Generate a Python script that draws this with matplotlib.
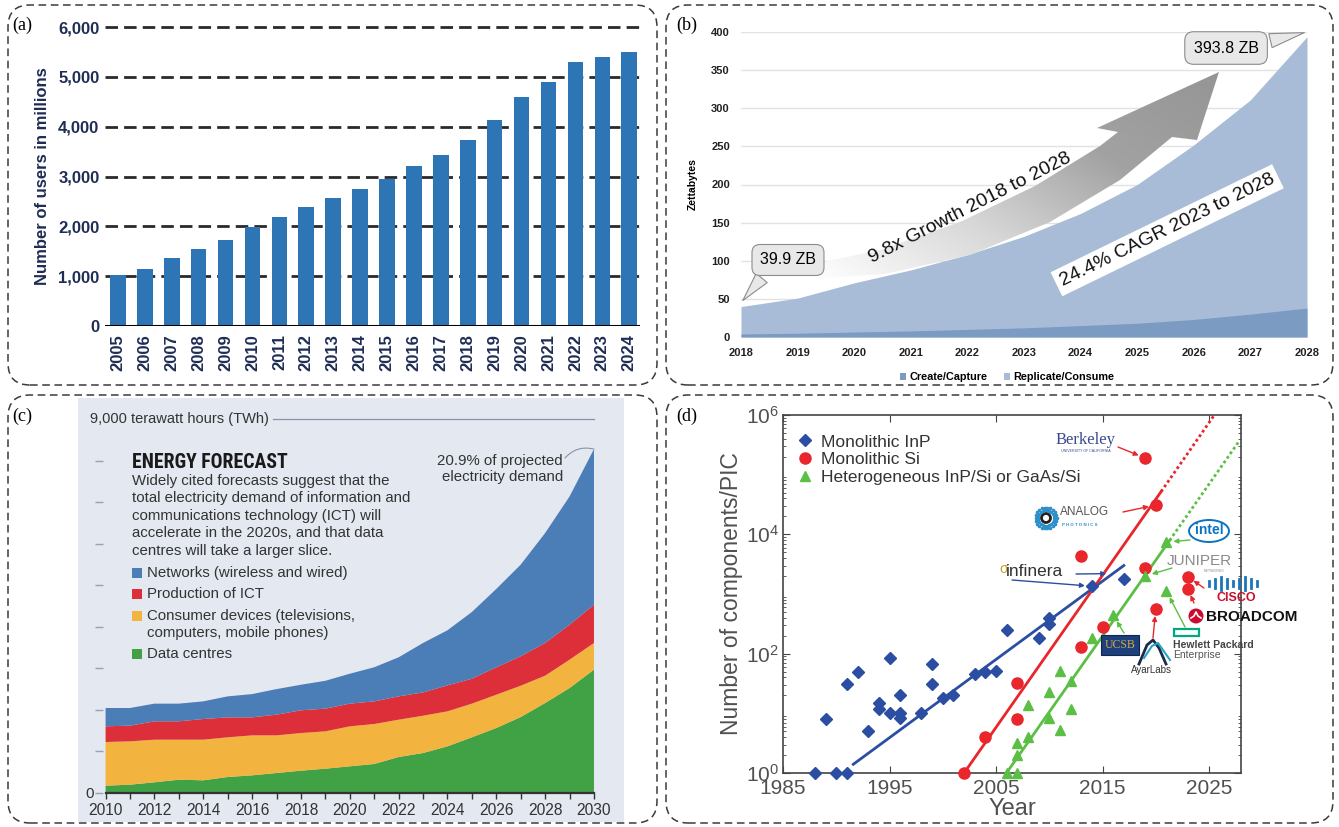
import numpy as np
import matplotlib
matplotlib.use("Agg")
import matplotlib.pyplot as plt
from matplotlib import font_manager
from matplotlib.colors import LinearSegmentedColormap
from matplotlib.patches import FancyBboxPatch, Polygon, Rectangle, Ellipse, Circle
from matplotlib.lines import Line2D

W, H = 1339, 827

# (a) internet users, millions
user_years = list(range(2005, 2025))
users = [1020, 1150, 1370, 1550, 1730, 1990, 2180, 2390, 2560, 2750,
         2950, 3220, 3440, 3730, 4130, 4590, 4900, 5300, 5400, 5500]
user_ticks = [0, 1000, 2000, 3000, 4000, 5000, 6000]

# (b) global datasphere, zettabytes
zb_years = list(range(2018, 2029))
zb_total = [39.9, 51, 71, 88, 108, 132, 162, 200, 252, 311, 393.8]
zb_create = [4, 5, 6.5, 8, 10, 12, 15, 18, 23, 30, 38]

# (c) ICT electricity demand by sector, TWh
ict_years = list(range(2010, 2031))
data_centres = [176, 200, 257, 320, 305, 385, 425, 481, 537, 585, 642,
                698, 866, 962, 1123, 1340, 1564, 1828, 2165, 2526, 2967]
consumer_devices = [1051, 1043, 1026, 963, 978, 955, 962, 906, 906, 899, 962,
                    962, 898, 898, 842, 810, 801, 754, 658, 682, 643]
production_ict = [378, 377, 442, 442, 497, 480, 433, 498, 547, 546, 546,
                  545, 561, 560, 625, 600, 660, 708, 787, 842, 920]
networks = [440, 425, 425, 425, 425, 505, 560, 615, 615, 670, 720,
            820, 940, 1190, 1325, 1605, 1885, 2205, 2645, 3085, 3745]

# (d) components per photonic integrated circuit
inp_years = [1988, 1989, 1990, 1991, 1991, 1992, 1993, 1994, 1994, 1995, 1995,
             1996, 1996, 1996, 1998, 1999, 1999, 2000, 2001, 2003, 2004, 2005,
             2006, 2009, 2010, 2010, 2014, 2017]
inp_counts = [1, 8, 1, 1, 31, 49, 5, 15, 12, 83, 10, 20, 10, 8.5, 10, 66, 31,
              18, 20, 45, 49, 51, 250, 180, 400, 310, 1350, 1750]
si_years = [2002, 2004, 2007, 2007, 2013, 2013, 2015, 2019, 2019, 2020, 2020, 2023, 2023]
si_counts = [1, 4, 32, 8, 130, 4300, 280, 2700, 190000, 31000, 560, 1950, 1230]
het_years = [2006, 2007, 2007, 2007, 2008, 2008, 2010, 2010, 2011, 2011, 2012,
             2012, 2014, 2016, 2019, 2021, 2021]
het_counts = [1, 1, 2, 3.2, 14, 4, 8.5, 23, 51, 5.3, 35, 12, 180, 440, 2000, 1120, 7400]

inp_trend = ([1991.6, 2017.0], [1.4, 3000])
si_trend = ([2002.0, 2020.5], [1, 52000])
si_proj = ([2020.5, 2025.5], [52000, 1e6])
het_trend = ([2005.8, 2021.3], [0.9, 7900])
het_proj = ([2021.3, 2027.8], [7900, 3.6e5])

# pick a condensed face for the headline if one is installed
names = {f.name for f in font_manager.fontManager.ttflist}
COND, CK = 'Liberation Sans', 0.78
for fam, k in [('Liberation Sans Narrow', 1.0), ('Roboto Condensed', 0.95),
               ('Open Sans Condensed', 0.95), ('DejaVu Sans Condensed', 0.85)]:
    if fam in names:
        COND, CK = fam, k
        break

plt.rcParams['font.family'] = ['Liberation Sans', 'DejaVu Sans']
plt.rcParams['mathtext.default'] = 'regular'

fig = plt.figure(figsize=(W / 100, H / 100), dpi=100)


def fbox(x0, y0, x1, y1):
    return [x0 / W, 1 - y1 / H, (x1 - x0) / W, (y1 - y0) / H]


def fx(px):
    return px / W


def fy(py):
    return 1 - py / H


def ftext(px, py, s, **kw):
    return fig.text(fx(px), fy(py), s, **kw)


# dashed rounded frames around the four panels
for x0, y0, x1, y1 in [(8, 5, 657, 385), (666, 5, 1333, 385),
                       (8, 395, 657, 823), (666, 395, 1333, 823)]:
    fig.add_artist(FancyBboxPatch((x0 / 100, (H - y1) / 100), (x1 - x0) / 100, (y1 - y0) / 100,
                                  boxstyle='round,pad=0,rounding_size=0.22',
                                  transform=fig.dpi_scale_trans, fill=False,
                                  ec='#3a3a3a', lw=1.1, ls=(0, (5, 3))))

for lbl, px, py in [('(a)', 12, 25), ('(b)', 676, 25), ('(c)', 12, 416), ('(d)', 676, 416)]:
    ftext(px, py, lbl, family=['Liberation Serif', 'DejaVu Serif'], fontsize=13,
          va='center', ha='left')

# ---------------- (a) ----------------
navy = '#1f2d55'
axa = fig.add_axes(fbox(105, 27, 640, 326))
axa.bar(range(len(users)), users, width=0.58, color='#2e75b6', zorder=3)
axa.set_xlim(-0.48, 19.4)
axa.set_ylim(0, 6000)
for v in user_ticks[1:]:
    axa.axhline(v, color='#2a2a2a', lw=2, ls=(0, (4.5, 2.2)), zorder=1, clip_on=False)
axa.axhline(0, color='black', lw=2.2, zorder=4)
for s in axa.spines.values():
    s.set_visible(False)
axa.set_yticks(user_ticks)
axa.set_yticklabels([f'{v:,}' for v in user_ticks], fontsize=12, fontweight='bold', color=navy)
axa.set_xticks(range(len(user_years)))
axa.set_xticklabels([str(y) for y in user_years], rotation=90, fontsize=12,
                    fontweight='bold', color=navy)
axa.tick_params(length=0, pad=4)
axa.tick_params(axis='x', pad=6)
axa.set_ylabel('Number of users in millions', fontsize=12, fontweight='bold',
               color=navy, labelpad=6)

# ---------------- (b) ----------------
axb = fig.add_axes(fbox(741, 32, 1307, 337))
axb.fill_between(zb_years, 0, zb_total, color='#a8bcd7', lw=0, zorder=2)
axb.fill_between(zb_years, 0, zb_create, color='#7b9bc3', lw=0, zorder=2)
axb.set_yticks(range(0, 401, 50))
axb.set_xticks(zb_years)
axb.yaxis.grid(True, color='#e2e2e2', lw=1)
axb.set_axisbelow(True)
for s in axb.spines.values():
    s.set_visible(False)
axb.tick_params(length=0, labelsize=8, pad=8)
for t in axb.get_xticklabels() + axb.get_yticklabels():
    t.set_fontweight('bold')
    t.set_color('#222')
axb.set_ylabel('Zettabytes', fontsize=7.5, fontweight='bold', labelpad=10)

# curved growth arrow with a grey gradient
arrow_px = [(795, 268), (880, 250), (960, 222), (1035, 186), (1100, 146), (1118, 132),
            (1097, 128), (1219, 72), (1197, 140), (1172, 137), (1120, 180),
            (1050, 222), (970, 255), (885, 274), (795, 280)]
arrow_verts = [((px - 741) / 566, (337 - py) / 305) for px, py in arrow_px]
arrow_poly = Polygon(arrow_verts, closed=True, transform=axb.transAxes, fc='none', ec='none')
axb.add_patch(arrow_poly)
gx, gy = np.meshgrid(np.linspace(0, 1, 300), np.linspace(0, 1, 300))
t0 = np.array(arrow_verts[0])
t1 = np.array(arrow_verts[7])
d = t1 - t0
proj = ((gx - t0[0]) * d[0] + (gy - t0[1]) * d[1]) / (d @ d)
grey_cmap = LinearSegmentedColormap.from_list('gr', ['#ffffff', '#d8d8d8', '#a2a2a2', '#959595'])
img = axb.imshow(np.clip(proj, 0, 1), cmap=grey_cmap, extent=[0, 1, 0, 1], origin='lower',
                 transform=axb.transAxes, aspect='auto', zorder=3, interpolation='bilinear')
img.set_clip_path(arrow_poly)
axb.set_xlim(2018, 2028)
axb.set_ylim(0, 400)

axb.text(2022.05, 169, '9.8x Growth 2018 to 2028', rotation=27, fontsize=14,
         ha='center', va='center', zorder=5, color='#111')
axb.text(2025.53, 140, '24.4% CAGR 2023 to 2028', rotation=26, fontsize=14,
         ha='center', va='center', zorder=5, color='#111',
         bbox=dict(boxstyle='square,pad=0.25', fc='white', ec='none'))
axb.annotate('39.9 ZB', xy=(2018, 45), xytext=(2018.83, 101), fontsize=11.5,
             ha='center', va='center', zorder=6, annotation_clip=False,
             bbox=dict(boxstyle='round,pad=0.5', fc='#e8e8e8', ec='#8c8c8c', lw=0.8),
             arrowprops=dict(arrowstyle='wedge,tail_width=0.9', fc='#e8e8e8', ec='#8c8c8c',
                             lw=0.8, relpos=(0.2, 0.05)))
axb.annotate('393.8 ZB', xy=(2028, 400), xytext=(2026.57, 379), fontsize=11.5,
             ha='center', va='center', zorder=6, annotation_clip=False,
             bbox=dict(boxstyle='round,pad=0.55', fc='#e8e8e8', ec='#8c8c8c', lw=0.8),
             arrowprops=dict(arrowstyle='wedge,tail_width=0.9', fc='#e8e8e8', ec='#8c8c8c',
                             lw=0.8, relpos=(0.95, 0.75)))
axb.legend([Rectangle((0, 0), 1, 1, fc='#7b9bc3'), Rectangle((0, 0), 1, 1, fc='#a8bcd7')],
           ['Create/Capture', 'Replicate/Consume'], loc='center',
           bbox_to_anchor=(0.47, -0.132), ncol=2, frameon=False,
           handlelength=0.6, handleheight=0.6, handletextpad=0.3, columnspacing=1.5,
           prop=dict(weight='bold', size=7.8))

# ---------------- (c) ----------------
axc = fig.add_axes(fbox(78, 398, 624, 822))
axc.set_facecolor('#e3e8f1')
axc.stackplot(ict_years, data_centres, consumer_devices, production_ict, networks,
              colors=['#41a145', '#f2b33f', '#dc2f39', '#4b7db7'], lw=0, zorder=2)
axc.set_xlim(2008.87, 2031.23)
axc.set_ylim(-698, 9505)
for s in ['top', 'right']:
    axc.spines[s].set_visible(False)
axc.spines['left'].set_position(('data', 2009.9))
axc.spines['left'].set_visible(False)
axc.spines['bottom'].set_position(('data', 0))
axc.spines['bottom'].set_bounds(2010, 2030)
axc.spines['bottom'].set_color('#333')
axc.spines['bottom'].set_linewidth(1.6)
axc.spines['bottom'].set_zorder(3)
axc.set_yticks(range(0, 9000, 1000))
axc.set_yticklabels(['0'] + [''] * 8)
axc.tick_params(axis='y', length=6, color='#9aa3b5', width=1, pad=1,
                labelsize=11, labelcolor='#333')
axc.set_xticks(range(2010, 2031, 2))
axc.set_xticks(range(2011, 2030, 2), minor=True)
axc.tick_params(axis='x', which='both', length=4, color='#333', width=1, pad=3,
                labelsize=11.2, labelcolor='#333')

axc.text(2009.36, 9000, '9,000 terawatt hours (TWh)', fontsize=10.5,
         va='center', ha='left', color='#333')
axc.plot([2016.85, 2030], [9000, 9000], color='#8a93a6', lw=0.9)

cpx = lambda px: 2008.87 + (px - 78) / 24.42
cpy = lambda py: (793 - py) / 41.56 * 1000
axc.text(cpx(132), cpy(462), 'ENERGY FORECAST', fontsize=15 * CK, family=[COND, 'DejaVu Sans'],
         fontweight='bold', va='center', ha='left', color='#1a1a1a')
desc = ['Widely cited forecasts suggest that the',
        'total electricity demand of information and',
        'communications technology (ICT) will',
        'accelerate in the 2020s, and that data',
        'centres will take a larger slice.']
for i, line in enumerate(desc):
    axc.text(cpx(132), cpy(481 + 17.4 * i), line, fontsize=10.8,
             va='center', ha='left', color='#333')
legend_rows = [('Networks (wireless and wired)', '#4b7db7', 573, 573),
               ('Production of ICT', '#dc2f39', 594, 594),
               ('Consumer devices (televisions,\ncomputers, mobile phones)', '#f2b33f', 616, 624.5),
               ('Data centres', '#41a145', 654, 654)]
for txt, col, py, ty in legend_rows:
    axc.add_patch(Rectangle((cpx(132), cpy(py + 5)), 10 / 24.42, 10 / 41.56 * 1000,
                            fc=col, ec='none', zorder=3))
    axc.text(cpx(147), cpy(ty), txt, fontsize=10.8, va='center',
             ha='left', color='#333', linespacing=1.3)
axc.text(cpx(563), cpy(469), '20.9% of projected\nelectricity demand', fontsize=10.8,
         va='center', ha='right', color='#333', linespacing=1.15)
axc.annotate('', xy=(2030, 8275), xytext=(cpx(565), cpy(458)),
             arrowprops=dict(arrowstyle='-', color='#8a93a6', lw=0.8,
                             connectionstyle='arc3,rad=-0.3', shrinkA=0, shrinkB=0))

# ---------------- (d) ----------------
blue, red, green = '#2b4ea2', '#e8262c', '#5cbf45'
axd = fig.add_axes(fbox(783, 415, 1241, 773))
axd.set_yscale('log')
axd.plot(inp_trend[0], inp_trend[1], color=blue, lw=2, zorder=2)
axd.plot(si_trend[0], si_trend[1], color=red, lw=2, zorder=2)
axd.plot(si_proj[0], si_proj[1], color=red, lw=2, ls=(0, (1, 1)), zorder=2)
axd.plot(het_trend[0], het_trend[1], color=green, lw=2, zorder=2)
axd.plot(het_proj[0], het_proj[1], color=green, lw=2, ls=(0, (1, 1)), zorder=2)
axd.plot(inp_years, inp_counts, 'D', color=blue, ms=6.5, ls='none', clip_on=False, zorder=4,
         label='Monolithic InP')
axd.plot(si_years, si_counts, 'o', color=red, ms=8, ls='none', clip_on=False, zorder=4,
         label='Monolithic Si')
axd.plot(het_years, het_counts, '^', color=green, ms=7.5, ls='none', clip_on=False, zorder=4,
         label='Heterogeneous InP/Si or GaAs/Si')
axd.set_xlim(1985, 2028)
axd.set_ylim(1, 1e6)
axd.set_xticks([1985, 1995, 2005, 2015, 2025])
axd.set_yticks([1, 1e2, 1e4, 1e6])
axd.set_yticklabels([r'$10^0$', r'$10^2$', r'$10^4$', r'$10^6$'])
axd.yaxis.set_minor_locator(matplotlib.ticker.LogLocator(base=10, subs=np.arange(2, 10), numticks=20))
axd.yaxis.set_minor_formatter(matplotlib.ticker.NullFormatter())
axd.tick_params(which='both', direction='in', top=True, right=True, color='#444',
                labelsize=15, labelcolor='#505050')
axd.tick_params(which='major', length=5, pad=4)
axd.tick_params(which='minor', length=2.5)
axd.tick_params(axis='y', which='major', pad=3)
for s in axd.spines.values():
    s.set_color('#444')
    s.set_linewidth(1.2)
axd.set_xlabel('Year', fontsize=17, color='#505050', labelpad=0)
axd.set_ylabel('Number of components/PIC', fontsize=16.5, color='#505050', labelpad=2)
axd.legend(loc='upper left', bbox_to_anchor=(0.01, 0.97), frameon=False, fontsize=12.5,
           handlelength=1.0, handletextpad=0.4, labelspacing=0.15, borderpad=0,
           labelcolor='#333')


def callout(px, py, xy, col):
    axd.annotate('', xy=xy, xytext=(px, H - py), textcoords='figure pixels',
                 annotation_clip=False,
                 arrowprops=dict(arrowstyle='-|>', color=col, lw=1, shrinkA=0, shrinkB=5,
                                 mutation_scale=7))


# Berkeley
ftext(1086, 440, 'Berkeley', family=['Liberation Serif', 'DejaVu Serif'], fontsize=12,
      color='#3a4a8e', ha='center', va='center')
ftext(1086, 451, 'UNIVERSITY OF CALIFORNIA', fontsize=2.6, color='#3a4a8e', ha='center', va='center')
callout(1118, 447, (2019, 190000), red)
# Analog Photonics
ang = np.linspace(0, 2 * np.pi, 22, endpoint=False)
for r, ms in [(0.105, 1.6), (0.08, 1.4)]:
    fig.add_artist(Line2D(10.46 + r * np.cos(ang), (H - 518) / 100 + r * np.sin(ang),
                          transform=fig.dpi_scale_trans, ls='none', marker='o', ms=ms,
                          color='#2d8fc9'))
fig.add_artist(Circle((10.46, (H - 518) / 100), 0.045, transform=fig.dpi_scale_trans,
                      fill=False, ec='#222', lw=2))
ftext(1060, 512, 'ANALOG', fontsize=8.5, color='#555', ha='left', va='center')
ftext(1062, 525, 'P H O T O N I C S', fontsize=3.2, color='#2d8fc9', ha='left', va='center',
      fontweight='bold')
callout(1123, 512, (2020, 31000), red)
# Intel
fig.add_artist(Ellipse((fx(1209), fy(531)), 40 / W, 22 / H, transform=fig.transFigure,
                       fill=False, ec='#0a74c4', lw=1.4))
ftext(1209, 530, 'intel', fontsize=10, color='#0a74c4', ha='center', va='center', fontweight='bold')
callout(1190, 540, (2021, 7400), green)
# Juniper
ftext(1199, 561, 'JUNIPER', fontsize=11, color='#8a8a8a', ha='center', va='center')
ftext(1214, 571, 'NETWORKS', fontsize=2.6, color='#8a8a8a', ha='center', va='center')
callout(1172, 568, (2019, 2000), green)
# Infinera
ftext(999, 569, 'σ', fontsize=10, color='#c9a227', ha='left', va='center')
ftext(1006, 572, 'infinera', fontsize=12.5, color='#333', ha='left', va='center')
callout(1012, 580, (2014, 1350), blue)
callout(1076, 574, (2016, 2200), blue)
# Cisco
for i, h in enumerate([5, 9, 13, 9, 5, 9, 13, 9, 5]):
    xb = 1209 + i * 6
    fig.add_artist(Line2D([fx(xb), fx(xb)], [fy(583 - h / 2), fy(583 + h / 2)],
                          transform=fig.transFigure, color='#1b75bb', lw=2))
ftext(1236, 598, 'CISCO', fontsize=9, color='#c8102e', ha='center', va='center',
      fontweight='bold')
callout(1204, 588, (2023, 1950), red)
callout(1194, 603, (2023, 1230), red)
# Broadcom
fig.add_artist(Circle((11.96, (H - 616) / 100), 0.075, transform=fig.dpi_scale_trans,
                      fc='#cc092f', ec='none'))
fig.add_artist(Line2D([11.91, 11.94, 11.96, 11.98, 12.01],
                      [(H - 616) / 100 + v for v in (-0.02, 0.0, 0.04, 0.0, -0.02)],
                      transform=fig.dpi_scale_trans, color='white', lw=1.2))
ftext(1206, 617, 'BROADCOM', fontsize=11, color='#111', ha='left', va='center',
      fontweight='bold')
# Hewlett Packard Enterprise
fig.add_artist(Rectangle((fx(1174), fy(636)), 25 / W, 7 / H, transform=fig.transFigure,
                         fill=False, ec='#01a982', lw=1.6))
ftext(1173, 645, 'Hewlett Packard', fontsize=7.5, color='#444', ha='left', va='center',
      fontweight='bold')
ftext(1173, 655, 'Enterprise', fontsize=7.5, color='#555', ha='left', va='center')
callout(1185, 627, (2021, 1120), green)
# Ayar Labs
fig.add_artist(Line2D([fx(p) for p in (1139, 1147, 1153, 1159, 1166)],
                      [fy(p) for p in (664, 645, 640, 648, 664)],
                      transform=fig.transFigure, color='#1c2b4a', lw=2))
fig.add_artist(Line2D([fx(p) for p in (1144, 1152, 1158, 1163, 1170)],
                      [fy(p) for p in (658, 646, 643, 650, 660)],
                      transform=fig.transFigure, color='#27a3c8', lw=1.5))
ftext(1151, 670, 'AyarLabs', fontsize=7, color='#333', ha='center', va='center')
callout(1153, 638, (2020, 560), red)
# UCSB
fig.add_artist(Rectangle((fx(1101), fy(655)), 38 / W, 20 / H, transform=fig.transFigure,
                         fc='#1d3f7a', ec='#0f2650', lw=0.8))
ftext(1120, 645, 'UCSB', family=['Liberation Serif', 'DejaVu Serif'], fontsize=8.5,
      color='#d2aa4a', ha='center', va='center')
callout(1124, 633, (2016, 440), green)

fig.savefig('out.png', dpi=100)
